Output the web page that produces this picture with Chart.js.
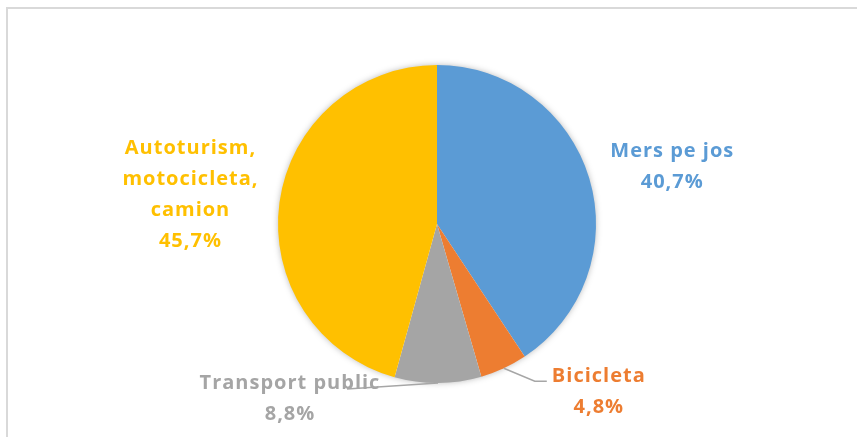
<!DOCTYPE html>
<html>
<head>
<meta charset="utf-8">
<script src="https://cdn.jsdelivr.net/npm/chart.js@4.4.1/dist/chart.umd.min.js"></script>
<style>
  html, body { margin: 0; padding: 0; background: #ffffff; }
  #wrap { width: 857px; height: 437px; position: relative; }
</style>
</head>
<body>
<div id="wrap"><canvas id="pie" width="857" height="437"></canvas></div>
<script>
// Modal split of daily trips (percent)
const categories = ['Mers pe jos', 'Bicicleta', 'Transport public', 'Autoturism, motocicleta, camion'];
const shares = [40.7, 4.8, 8.8, 45.7];
const labelLines = [
  ['Mers pe jos'],
  ['Bicicleta'],
  ['Transport public'],
  ['Autoturism,', 'motocicleta,', 'camion']
];
const sliceColors = ['#5B9BD5', '#ED7D31', '#A5A5A5', '#FFC000'];

// Label placement relative to the outer midpoint of each slice
const labelLayout = [
  { dx: 83, dy: -11, leader: null },
  { dx: 95, dy: 24, leader: [[0, 0], [31, 13], [43, 13]] },
  { dx: -148, dy: 16, leader: [[0, 0], [-91, 6]] },
  { dx: -89, dy: -8, leader: null }
];
const LINE_H = 31;
const FONT = 'bold 20px "Open Sans", Lato, sans-serif';

function fmtPct(v) { return v.toFixed(1).replace('.', ',') + '%'; }

// Light frame around the chart area
const framePlugin = {
  id: 'frame',
  beforeDraw(chart) {
    const ctx = chart.ctx;
    ctx.save();
    ctx.strokeStyle = '#d9d9d9';
    ctx.lineWidth = 2;
    ctx.beginPath();
    ctx.moveTo(7, 460);
    ctx.lineTo(7, 8);
    ctx.lineTo(900, 8);
    ctx.stroke();
    ctx.restore();
  }
};

// Soft halo under the pie
const shadowPlugin = {
  id: 'pieShadow',
  beforeDatasetsDraw(chart) {
    const arc = chart.getDatasetMeta(0).data[0];
    if (!arc) return;
    const ctx = chart.ctx;
    ctx.save();
    ctx.shadowColor = 'rgba(0,0,0,0.35)';
    ctx.shadowBlur = 7;
    ctx.fillStyle = '#ffffff';
    ctx.beginPath();
    ctx.arc(arc.x, arc.y, arc.outerRadius - 1, 0, Math.PI * 2);
    ctx.fill();
    ctx.restore();
  }
};

// Category + value labels with leader lines
const labelPlugin = {
  id: 'sliceLabels',
  afterDatasetsDraw(chart) {
    const ctx = chart.ctx;
    const meta = chart.getDatasetMeta(0);
    meta.data.forEach((arc, i) => {
      const mid = (arc.startAngle + arc.endAngle) / 2;
      const ax = arc.x + Math.cos(mid) * arc.outerRadius;
      const ay = arc.y + Math.sin(mid) * arc.outerRadius;
      const lay = labelLayout[i];
      ctx.save();
      if (lay.leader) {
        ctx.strokeStyle = '#a6a6a6';
        ctx.lineWidth = 1.5;
        ctx.beginPath();
        lay.leader.forEach((p, k) => {
          const px = ax + p[0], py = ay + p[1];
          if (k === 0) ctx.moveTo(px, py); else ctx.lineTo(px, py);
        });
        ctx.stroke();
      }
      const lines = labelLines[i].concat([fmtPct(chart.data.datasets[0].data[i])]);
      const cx = ax + lay.dx;
      const cy = ay + lay.dy;
      const top = cy - (lines.length - 1) * LINE_H / 2;
      ctx.font = FONT;
      ctx.letterSpacing = '1px';
      ctx.fillStyle = sliceColors[i];
      ctx.textAlign = 'center';
      ctx.textBaseline = 'middle';
      lines.forEach((t, k) => ctx.fillText(t, cx, top + k * LINE_H));
      ctx.restore();
    });
  }
};

new Chart(document.getElementById('pie'), {
  type: 'pie',
  data: {
    labels: categories,
    datasets: [{
      data: shares,
      backgroundColor: sliceColors,
      borderWidth: 0
    }]
  },
  options: {
    responsive: false,
    animation: false,
    layout: { padding: { top: 65, bottom: 54, left: 100, right: 83 } },
    plugins: {
      legend: { display: false },
      tooltip: { enabled: false }
    }
  },
  plugins: [framePlugin, shadowPlugin, labelPlugin]
});
</script>
</body>
</html>
